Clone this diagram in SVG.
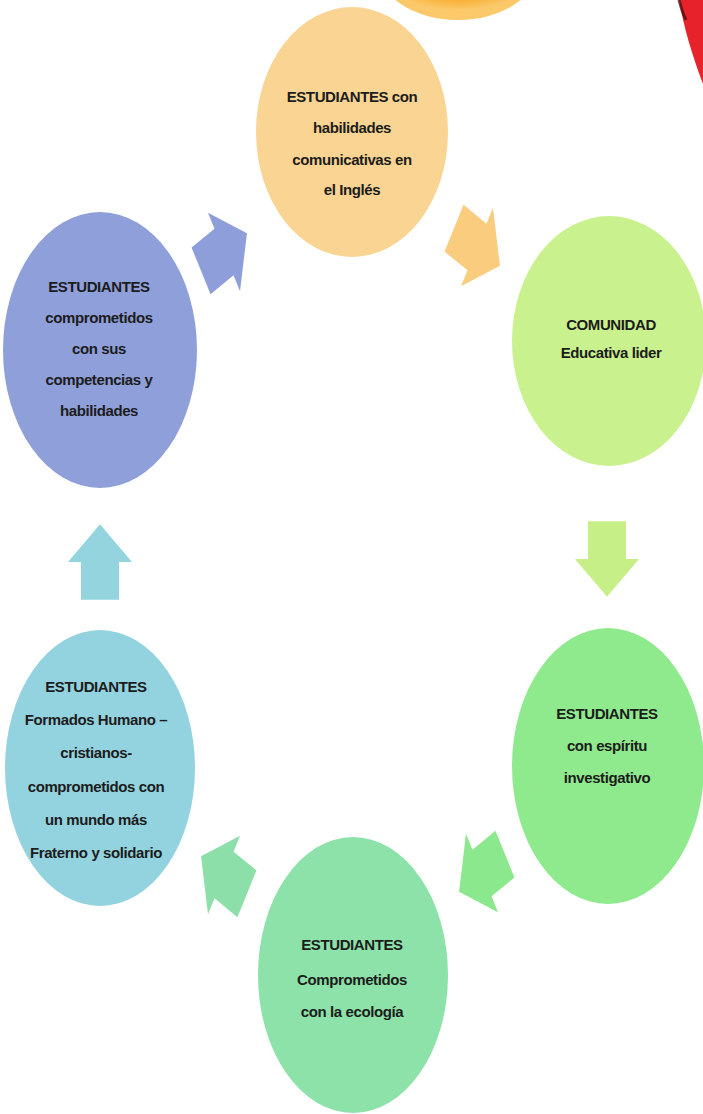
<svg xmlns="http://www.w3.org/2000/svg" xmlns:xlink="http://www.w3.org/1999/xlink" width="703" height="1114" viewBox="0 0 703 1114">
  <style>
    .lbl { font-family: "Liberation Sans", Arial, sans-serif; font-weight: bold; font-size: 15px; letter-spacing: -0.4px; fill: #1c1c1c; text-anchor: middle; }
  </style>
  <defs>
    <polygon id="arr" points="-26.5,-19 0,-19 0,-32 26.5,0 0,32 0,19 -26.5,19"/>
    <radialGradient id="orangeDeco" cx="0.5" cy="0.3" r="0.6">
      <stop offset="0" stop-color="#F5A01C"/>
      <stop offset="0.8" stop-color="#F7AC2C"/>
      <stop offset="1" stop-color="#FBC86A"/>
    </radialGradient>
  </defs>
  <rect x="0" y="0" width="703" height="1114" fill="#FFFFFF"/>

  <g id="decorations">
    <ellipse cx="458" cy="-30" rx="78" ry="50" fill="url(#orangeDeco)"/>
    <path d="M679,0 C684,28 692,55 703,84 L703,0 Z" fill="#E8222B"/>
    <path d="M679,0 C681,8 683,14 686,20" fill="none" stroke="#3a0a0a" stroke-width="3" opacity="0.7"/>
  </g>

  <g id="connectors">
    <use xlink:href="#arr" href="#arr" fill="#8E9EDB" transform="translate(224,252) scale(1,1.42) rotate(-30)"/>
    <use xlink:href="#arr" href="#arr" fill="#F9CC7E" transform="translate(477,247) scale(1,1.42) rotate(30)"/>
    <use xlink:href="#arr" href="#arr" fill="#C6EF88" transform="translate(607,559) scale(1,1.42) rotate(90)"/>
    <use xlink:href="#arr" href="#arr" fill="#8BE88C" transform="translate(482,873) scale(1,1.42) rotate(150)"/>
    <use xlink:href="#arr" href="#arr" fill="#8CDFA8" transform="translate(224,875) scale(1,1.42) rotate(210)"/>
    <use xlink:href="#arr" href="#arr" fill="#93D4DE" transform="translate(100,562) scale(1,1.42) rotate(-90)"/>
  </g>

  <g id="node-ingles">
    <ellipse cx="352" cy="132" rx="96" ry="125" fill="#F9D492"/>
    <text class="lbl" x="352" y="102">ESTUDIANTES con</text>
    <text class="lbl" x="352" y="133">habilidades</text>
    <text class="lbl" x="352" y="165">comunicativas en</text>
    <text class="lbl" x="352" y="195">el Inglés</text>
  </g>

  <g id="node-comunidad">
    <ellipse cx="609" cy="341" rx="97" ry="125" fill="#C9F28E"/>
    <text class="lbl" x="611" y="330">COMUNIDAD</text>
    <text class="lbl" x="611" y="358">Educativa lider</text>
  </g>

  <g id="node-investigativo">
    <ellipse cx="608" cy="766" rx="96" ry="138" fill="#8FEA8D"/>
    <text class="lbl" x="607" y="719">ESTUDIANTES</text>
    <text class="lbl" x="607" y="751">con espíritu</text>
    <text class="lbl" x="607" y="783">investigativo</text>
  </g>

  <g id="node-ecologia">
    <ellipse cx="353" cy="975" rx="95" ry="138" fill="#8CE2A8"/>
    <text class="lbl" x="352" y="950">ESTUDIANTES</text>
    <text class="lbl" x="352" y="985">Comprometidos</text>
    <text class="lbl" x="352" y="1017">con la ecología</text>
  </g>

  <g id="node-humano">
    <ellipse cx="100" cy="768" rx="95" ry="138" fill="#93D3DF"/>
    <text class="lbl" x="96" y="692">ESTUDIANTES</text>
    <text class="lbl" x="96" y="725">Formados Humano –</text>
    <text class="lbl" x="96" y="758">cristianos-</text>
    <text class="lbl" x="96" y="792">comprometidos con</text>
    <text class="lbl" x="96" y="825">un mundo más</text>
    <text class="lbl" x="96" y="858">Fraterno y solidario</text>
  </g>

  <g id="node-competencias">
    <ellipse cx="100" cy="350" rx="97" ry="138" fill="#8E9FDA"/>
    <text class="lbl" x="99" y="292">ESTUDIANTES</text>
    <text class="lbl" x="99" y="323">comprometidos</text>
    <text class="lbl" x="99" y="354">con sus</text>
    <text class="lbl" x="99" y="385">competencias y</text>
    <text class="lbl" x="99" y="416">habilidades</text>
  </g>
</svg>
